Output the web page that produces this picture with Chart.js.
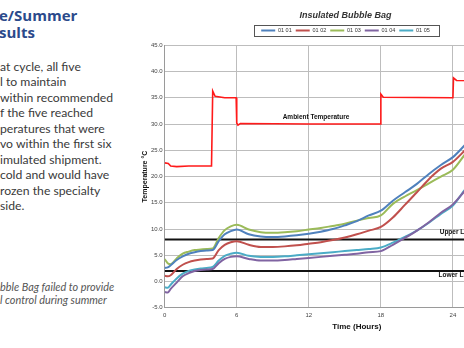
<!DOCTYPE html>
<html>
<head>
<meta charset="utf-8">
<script src="https://cdn.jsdelivr.net/npm/chart.js@4/dist/chart.umd.min.js"></script>
<style>
    html, body { margin: 0; padding: 0; background: #fff; }
    body { width: 464px; height: 348px; overflow: hidden; position: relative; }
    .slide-title { position: absolute; left: -1px; top: 7px; font: bold 15px/17px "Open Sans", sans-serif; color: #2b4a8b; white-space: nowrap; }
    .slide-body { position: absolute; left: 0; top: 59px; font: 12.2px/15.45px Lato, sans-serif; color: #3a3a3a; white-space: nowrap; }
    .slide-note { position: absolute; left: 0; top: 280px; font: italic 10.9px/13px Lato, sans-serif; color: #555; white-space: nowrap; }
    #chartBox { position: absolute; left: 130px; top: 0; }
</style>
</head>
<body>
<div class="slide-title">e/Summer<br>sults</div>
<div class="slide-body">at cycle, all five<br>l to maintain<br>within recommended<br>f the five reached<br>peratures that were<br>vo within the first six<br>imulated shipment.<br>cold and would have<br>rozen the specialty<br>side.</div>
<div class="slide-note">bble Bag failed to provide<br>l control during summer</div>
<canvas id="chartBox" width="432" height="348"></canvas>
<script>
// Time axis shared by the five bag loggers (hours)
const hours = [0, 0.25, 0.5, 1, 1.5, 2, 2.5, 3, 3.5, 4, 4.5, 5, 5.5, 6, 7, 8, 9, 10, 11, 12, 13, 14, 15, 16, 17, 18, 19, 20, 21, 22, 23, 24, 25, 26];

const temps0101 = [2.6, 2.7, 3.1, 4.1, 4.8, 5.3, 5.6, 5.8, 5.9, 6.0, 7.7, 9.0, 9.6, 9.9, 9.0, 8.6, 8.5, 8.6, 8.8, 9.1, 9.5, 10.0, 10.7, 11.5, 12.6, 13.5, 15.4, 17.0, 18.6, 20.5, 22.2, 23.7, 26.0, 28.3];
const temps0102 = [1.1, 1.0, 1.2, 2.4, 3.2, 3.7, 4.0, 4.2, 4.3, 4.4, 6.0, 7.0, 7.5, 7.7, 7.0, 6.6, 6.6, 6.7, 6.9, 7.2, 7.5, 7.9, 8.4, 9.0, 9.7, 10.4, 12.2, 14.6, 17.0, 19.5, 21.5, 22.8, 25.0, 27.2];
const temps0103 = [4.3, 3.5, 3.3, 4.4, 5.3, 5.7, 6.0, 6.1, 6.2, 6.3, 8.3, 9.8, 10.5, 10.8, 9.9, 9.4, 9.3, 9.4, 9.6, 9.9, 10.2, 10.6, 11.0, 11.6, 12.1, 12.6, 14.8, 16.2, 17.4, 18.7, 20.0, 21.3, 24.2, 27.0];
const temps0104 = [-2.0, -2.1, -1.4, -0.2, 1.0, 1.6, 2.0, 2.2, 2.3, 2.4, 3.5, 4.3, 4.7, 4.8, 4.3, 4.0, 4.0, 4.1, 4.3, 4.5, 4.7, 4.9, 5.1, 5.3, 5.6, 5.8, 7.0, 8.3, 9.7, 11.3, 13.1, 14.7, 17.3, 20.0];
const temps0105 = [-1.1, -1.2, -0.6, 0.6, 1.5, 2.0, 2.3, 2.5, 2.6, 2.8, 4.0, 4.9, 5.3, 5.5, 4.9, 4.7, 4.7, 4.8, 5.0, 5.2, 5.4, 5.6, 5.8, 6.0, 6.2, 6.5, 7.4, 8.5, 9.7, 11.2, 12.9, 14.5, 17.5, 20.3];

// Ambient chamber profile
const ambientHours = [0, 0.3, 0.5, 1, 2, 3.9, 4.0, 4.2, 5, 5.95, 6.0, 6.1, 6.3, 12, 17.95, 18.0, 18.2, 24, 24.05, 24.3, 30];
const ambientTemps = [22.6, 22.5, 22.0, 21.9, 22.0, 22.0, 36.3, 35.3, 35.0, 35.0, 30.2, 29.8, 30.1, 30.0, 30.0, 35.7, 35.1, 35.0, 38.8, 38.3, 38.2];

const seriesNames = ['01 01', '01 02', '01 03', '01 04', '01 05'];
const upperLimit = 8;
const lowerLimit = 2;
const xTicks = [0, 6, 12, 18, 24, 30];

const seriesColors = ['#4f81bd', '#c0504d', '#9bbb59', '#8064a2', '#4bacc6'];
const toPoints = (xs, ys) => xs.map((x, i) => ({ x: x, y: ys[i] }));

const seriesSets = [temps0101, temps0102, temps0103, temps0104, temps0105].map((vals, i) => ({
    label: seriesNames[i],
    data: toPoints(hours, vals),
    borderColor: seriesColors[i],
    backgroundColor: seriesColors[i],
    borderWidth: 2,
    pointRadius: 0,
    cubicInterpolationMode: 'monotone',
    fill: false
}));

const limitLine = (val) => ({
    label: 'limit',
    data: [{ x: 0, y: val }, { x: 32, y: val }],
    borderColor: '#111',
    borderWidth: 2,
    pointRadius: 0,
    fill: false
});

// Text labels written on the plot
const plotNotes = [
    { text: 'Ambient Temperature', x: 12.6, y: 31.3, align: 'center' },
    { text: 'Upper Limit', x: 22.9, y: 9.4, align: 'left' },
    { text: 'Lower Limit', x: 22.8, y: 1.2, align: 'left' }
];

const notesPlugin = {
    id: 'notes',
    afterDatasetsDraw(chart) {
        const { ctx, scales } = chart;
        ctx.save();
        ctx.font = 'bold 6.5px "Liberation Sans", Arial, sans-serif';
        ctx.fillStyle = '#111';
        ctx.textBaseline = 'middle';
        plotNotes.forEach(n => {
            ctx.textAlign = n.align;
            ctx.fillText(n.text, scales.x.getPixelForValue(n.x), scales.y.getPixelForValue(n.y));
        });
        ctx.restore();
    }
};

// Box round the legend items, plus a bit of room under the legend
const legendBox = {
    id: 'legendBox',
    beforeInit(chart) {
        const fit = chart.legend.fit;
        chart.legend.fit = function () {
            fit.bind(chart.legend)();
            this.height += 2;
        };
    },
    afterDraw(chart) {
        const hb = chart.legend.legendHitBoxes;
        if (!hb || !hb.length) return;
        const left = Math.min(...hb.map(b => b.left)) - 7;
        const right = Math.max(...hb.map(b => b.left + b.width)) + 9;
        const top = Math.min(...hb.map(b => b.top)) - 2.5;
        const bottom = Math.max(...hb.map(b => b.top + b.height)) + 2.5;
        const ctx = chart.ctx;
        ctx.save();
        ctx.strokeStyle = '#555';
        ctx.lineWidth = 1;
        ctx.strokeRect(Math.round(left) + 0.5, Math.round(top) + 0.5, Math.round(right - left), Math.round(bottom - top));
        ctx.restore();
    }
};

Chart.defaults.font.family = '"Liberation Sans", Arial, sans-serif';
Chart.defaults.color = '#333';

new Chart(document.getElementById('chartBox'), {
    type: 'line',
    data: {
        datasets: [
            ...seriesSets,
            {
                label: 'Ambient',
                data: toPoints(ambientHours, ambientTemps),
                borderColor: '#ff1a1a',
                borderWidth: 1.6,
                pointRadius: 0,
                tension: 0,
                fill: false
            },
            limitLine(upperLimit),
            limitLine(lowerLimit)
        ]
    },
    options: {
        responsive: false,
        animation: false,
        layout: { padding: { left: 12, right: 13, top: 0, bottom: 17 } },
        plugins: {
            title: {
                display: true,
                text: 'Insulated Bubble Bag',
                font: { size: 9, style: 'italic' },
                color: '#333',
                padding: { top: 10, bottom: 3 }
            },
            legend: {
                position: 'top',
                labels: {
                    filter: item => seriesNames.includes(item.text),
                    usePointStyle: true,
                    pointStyle: 'line',
                    pointStyleWidth: 14,
                    padding: 4,
                    font: { size: 5.5 },
                    color: '#333'
                }
            },
            tooltip: { enabled: false }
        },
        scales: {
            x: {
                type: 'linear',
                min: 0,
                max: 32,
                afterBuildTicks: axis => { axis.ticks = xTicks.map(v => ({ value: v })); },
                grid: { color: '#bdbdbd', drawTicks: false },
                border: { color: '#9a9a9a' },
                ticks: { font: { size: 6 }, color: '#444', padding: 4 },
                title: { display: true, text: 'Time (Hours)', font: { size: 8, weight: 'bold', lineHeight: 1 }, color: '#111', padding: { top: 0, bottom: 0 } }
            },
            y: {
                min: -5,
                max: 45,
                ticks: {
                    stepSize: 5,
                    font: { size: 6 },
                    color: '#444',
                    padding: 2,
                    callback: v => v.toFixed(1)
                },
                grid: { color: '#bdbdbd', drawTicks: false },
                border: { color: '#9a9a9a' },
                title: { display: true, text: 'Temperature °C', font: { size: 7, weight: 'bold', lineHeight: 1 }, color: '#111', padding: { top: 0, bottom: 0 } }
            }
        }
    },
    plugins: [notesPlugin, legendBox]
});
</script>
</body>
</html>
